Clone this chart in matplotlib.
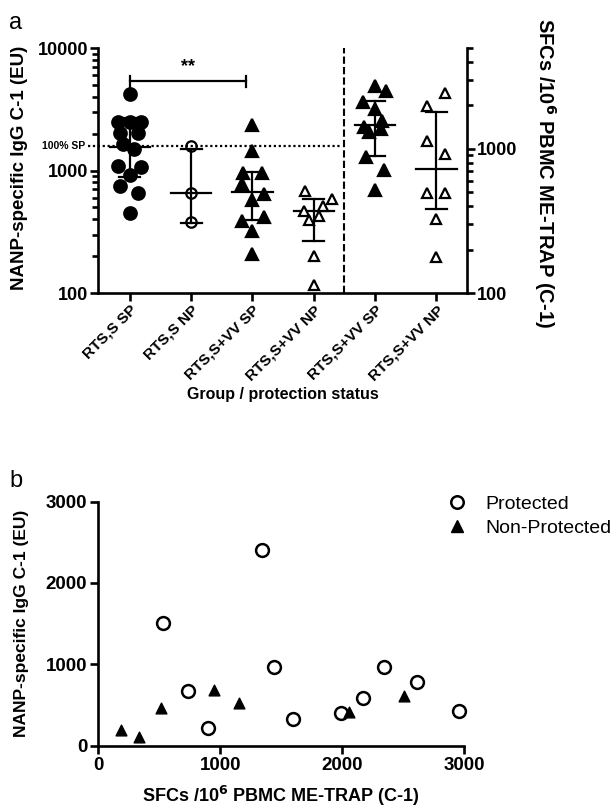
import matplotlib
matplotlib.use('Agg')
import matplotlib.pyplot as plt
from matplotlib.ticker import FixedLocator, FixedFormatter, NullFormatter, LogLocator
from matplotlib.lines import Line2D

plt.rcParams['font.family'] = ['Liberation Sans', 'DejaVu Sans']
plt.rcParams['font.weight'] = 'bold'

# ---- panel a data ----
groups = ['RTS,S SP', 'RTS,S NP', 'RTS,S+VV SP', 'RTS,S+VV NP', 'RTS,S+VV SP', 'RTS,S+VV NP']

# left axis: NANP-specific IgG (EU)
g1_vals = [4236, 2489, 2489, 2489, 2023, 2023, 1645, 1507, 1094, 1069, 912, 752, 655, 450]
g1_dx = [0, -0.2, 0, 0.18, -0.16, 0.14, -0.11, 0.07, -0.2, 0.18, 0, -0.16, 0.14, 0]
g2_vals = [1600, 660, 378]
g2_dx = [0, 0, 0]
g3_vals = [2365, 1432, 955, 955, 780, 647, 578, 389, 417, 318, 209]
g3_dx = [0, 0, -0.15, 0.15, -0.17, 0.19, 0, -0.17, 0.19, 0, 0]
g4_vals = [675, 585, 516, 464, 422, 397, 199, 117]
g4_dx = [-0.14, 0.3, 0.15, -0.16, 0.09, -0.08, 0, 0]

# right axis: SFCs / 10^6 PBMC ME-TRAP
g5_vals = [2744, 2535, 2104, 1893, 1553, 1426, 1375, 1303, 875, 708, 514]
g5_dx = [0, 0.175, -0.19, 0, 0.12, -0.18, 0.09, -0.1, -0.15, 0.15, 0]
g6_vals = [2427, 1995, 1141, 914, 495, 495, 327, 177]
g6_dx = [0.14, -0.16, -0.16, 0.14, -0.16, 0.14, 0, 0]

# median and interquartile range per group
medians = [1545, 660, 663, 464, 1472, 728]
q1 = [879, 376, 397, 264, 885, 380]
q3 = [2663, 1500, 966, 585, 2136, 1790]

sp_level = 1600
sig_level = 5410

# ---- panel b data ----
prot_x = [1343, 531, 1438, 733, 899, 1601, 1988, 2169, 2346, 2617, 2959]
prot_y = [2410, 1509, 969, 667, 213, 328, 398, 585, 962, 785, 426]
nonprot_x = [183, 335, 518, 948, 1152, 2059, 2510]
nonprot_y = [193, 110, 459, 683, 528, 413, 610]

fig = plt.figure(figsize=(6.14, 8.07), dpi=100)

lw_sp = 1.9

ax = fig.add_axes([0.1596, 0.6369, 0.601, 0.3036])
ax2 = ax.twinx()

ax.set_yscale('log')
ax.set_ylim(100, 10000)
ax.set_xlim(-0.52, 5.5)
ax2.set_yscale('log')
ax2.set_ylim(100, 5000)

for a in (ax, ax2):
    a.spines['top'].set_visible(False)
    for s in a.spines.values():
        s.set_linewidth(lw_sp)
ax.spines['right'].set_visible(False)
ax2.spines['left'].set_visible(False)
ax2.spines['bottom'].set_visible(False)


def draw_group(a, i, vals, dx, marker, fc, ms):
    xs = [i + d for d in dx]
    # median line and IQR bars
    a.plot([i - 0.33, i + 0.33], [medians[i], medians[i]], color='black', lw=1.6, zorder=2)
    a.plot([i, i], [q1[i], q3[i]], color='black', lw=1.6, zorder=2)
    for q in (q1[i], q3[i]):
        a.plot([i - 0.17, i + 0.17], [q, q], color='black', lw=1.6, zorder=2)
    a.plot(xs, vals, linestyle='none', marker=marker, markersize=ms,
           markerfacecolor=fc, markeredgecolor='black', markeredgewidth=1.6, zorder=3)


draw_group(ax, 0, g1_vals, g1_dx, 'o', 'black', 9)
draw_group(ax, 1, g2_vals, g2_dx, 'o', 'none', 7.5)
draw_group(ax, 2, g3_vals, g3_dx, '^', 'black', 8)
draw_group(ax, 3, g4_vals, g4_dx, '^', 'white', 7.5)
draw_group(ax2, 4, g5_vals, g5_dx, '^', 'black', 8)
draw_group(ax2, 5, g6_vals, g6_dx, '^', 'white', 7.5)

# divider and 100% SP line
ax.axvline(3.5, color='black', lw=1.5, linestyle=(0, (3.5, 1.5)))
ax.plot([-0.68, 3.44], [sp_level, sp_level], color='black', lw=1.6,
        linestyle=(0, (1, 1.2)), clip_on=False)
ax.text(-0.73, sp_level, '100% SP', ha='right', va='center', fontsize=7.5, fontweight='bold')

# significance bracket
ax.plot([0, 1.9], [sig_level, sig_level], color='black', lw=1.6)
for xb in (0, 1.9):
    ax.plot([xb, xb], [4830, 5940], color='black', lw=1.6)
ax.text(0.95, 6000, '**', ha='center', va='bottom', fontsize=13, fontweight='bold')

# ticks
ax.yaxis.set_major_locator(FixedLocator([100, 1000, 10000]))
ax.yaxis.set_major_formatter(FixedFormatter(['100', '1000', '10000']))
ax.yaxis.set_minor_locator(LogLocator(base=10, subs=range(2, 10)))
ax.yaxis.set_minor_formatter(NullFormatter())
ax2.yaxis.set_major_locator(FixedLocator([100, 1000]))
ax2.yaxis.set_major_formatter(FixedFormatter(['100', '1000']))
ax2.yaxis.set_minor_locator(LogLocator(base=10, subs=range(2, 10)))
ax2.yaxis.set_minor_formatter(NullFormatter())

ax.set_xticks(range(len(groups)))
ax.set_xticklabels(groups, rotation=45, ha='right', rotation_mode='anchor')
for a in (ax, ax2):
    a.tick_params(which='major', direction='out', length=6, width=lw_sp, labelsize=13, pad=1)
    a.tick_params(which='minor', direction='out', length=4, width=lw_sp)
ax.tick_params(axis='x', labelsize=11, pad=1)

ax.set_xlabel('Group / protection status', fontsize=11.5, fontweight='bold', va='center')
ax.xaxis.set_label_coords(0.5, -0.415)
ax.set_ylabel('NANP-specific IgG C-1 (EU)', fontsize=13.5, fontweight='bold')
ax.yaxis.set_label_coords(-0.19, 0.51)
ax2.set_ylabel('SFCs /10$^{6}$ PBMC ME-TRAP (C-1)', fontsize=14.5, fontweight='bold',
               rotation=270, va='bottom')
ax2.yaxis.set_label_coords(1.175, 0.49)

fig.text(0.015, 0.985, 'a', fontsize=17, fontweight='normal', va='top')
fig.text(0.015, 0.418, 'b', fontsize=17, fontweight='normal', va='top')

# ---- panel b ----
bx = fig.add_axes([0.160, 0.076, 0.5956, 0.3024])
bx.scatter(prot_x, prot_y, s=85, marker='o', facecolors='white', edgecolors='black',
           linewidths=1.8, zorder=3, clip_on=False)
bx.scatter(nonprot_x, nonprot_y, s=60, marker='^', color='black', zorder=4, clip_on=False)
bx.set_xlim(0, 3000)
bx.set_ylim(0, 3000)
bx.set_xticks([0, 1000, 2000, 3000])
bx.set_yticks([0, 1000, 2000, 3000])
bx.spines['top'].set_visible(False)
bx.spines['right'].set_visible(False)
for s in bx.spines.values():
    s.set_linewidth(lw_sp)
bx.tick_params(direction='out', length=6, width=lw_sp, labelsize=13.5, pad=2)
bx.set_xlabel('SFCs /10$^{6}$ PBMC ME-TRAP (C-1)', fontsize=13, fontweight='bold', va='center')
bx.xaxis.set_label_coords(0.5, -0.205)
bx.set_ylabel('NANP-specific IgG C-1 (EU)', fontsize=12.5, fontweight='bold')
bx.yaxis.set_label_coords(-0.19, 0.5)

handles = [Line2D([], [], linestyle='none', marker='o', markersize=9, markerfacecolor='white',
                  markeredgecolor='black', markeredgewidth=1.8),
           Line2D([], [], linestyle='none', marker='^', markersize=8, color='black')]
fig.legend(handles, ['Protected', 'Non-Protected'], loc='upper left',
           bbox_to_anchor=(0.731, 0.386), frameon=False, borderpad=0, borderaxespad=0,
           handlelength=0.8, handletextpad=1.1, labelspacing=0.3,
           prop={'size': 14, 'weight': 'normal'})

fig.savefig('out.png', dpi=100)
